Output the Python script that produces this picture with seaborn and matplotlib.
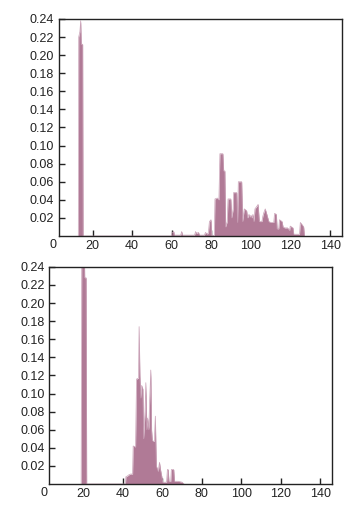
import matplotlib
matplotlib.use("Agg")
import matplotlib.pyplot as plt
import seaborn as sns
import pandas as pd

# top panel: (x, density) outline points
top_x = [12.8, 13.0, 13.6, 14.0, 14.3, 15.0, 15.2,
         59.8, 60.2, 61.0, 61.3, 64.5, 65.0, 65.5, 71.5, 72.0, 72.5, 73.5, 74.0,
         76.5, 77.0, 78.0, 78.5, 79.0, 79.8, 80.2, 81.5, 81.8, 83.0, 83.8, 84.3,
         85.8, 86.2, 86.8, 87.2, 88.0, 88.4, 89.8, 90.3, 91.0, 91.2, 92.8, 93.2,
         93.6, 95.3, 95.8, 96.6, 97.8, 98.3, 99.0, 99.5, 100.0, 100.5, 101.0,
         101.5, 102.0, 103.0, 103.6, 104.2, 105.5, 106.0, 106.5, 107.2, 108.0,
         108.5, 109.0, 110.0, 111.5, 111.9, 112.8, 113.2, 114.0, 114.4, 115.7,
         116.2, 117.0, 118.5, 119.5, 119.8, 121.2, 121.6, 124.5, 124.9, 126.0,
         126.6, 127.0]
top_y = [0.0, 0.220, 0.226, 0.238, 0.212, 0.212, 0.0,
         0.0, 0.004, 0.005, 0.001, 0.001, 0.005, 0.001, 0.001, 0.005, 0.003, 0.004, 0.001,
         0.001, 0.004, 0.002, 0.004, 0.016, 0.018, 0.0, 0.001, 0.041, 0.042, 0.040, 0.091,
         0.091, 0.072, 0.072, 0.010, 0.016, 0.041, 0.041, 0.020, 0.030, 0.048, 0.048, 0.015,
         0.060, 0.060, 0.016, 0.030, 0.028, 0.020, 0.024, 0.021, 0.023, 0.020, 0.024,
         0.016, 0.030, 0.033, 0.035, 0.016, 0.016, 0.022, 0.026, 0.030, 0.024,
         0.020, 0.016, 0.015, 0.015, 0.025, 0.024, 0.008, 0.008, 0.018, 0.016,
         0.010, 0.009, 0.009, 0.006, 0.011, 0.009, 0.002, 0.002, 0.015, 0.012,
         0.010, 0.0]

# bottom panel
bot_x = [19.0, 19.3, 20.6, 20.8, 21.5, 21.8,
         41.4, 41.6, 42.5, 43.0, 44.0, 45.0, 45.3, 46.5, 47.0, 48.0, 48.3, 48.7,
         49.2, 49.6, 50.2, 50.6, 51.3, 51.7, 52.2, 52.6, 53.2, 53.6, 54.2, 54.6,
         55.0, 56.0, 56.5, 57.0, 58.0, 58.6, 59.2, 59.8, 60.2, 62.2, 62.6, 63.0,
         63.4, 64.3, 64.6, 65.8, 66.2, 68.0, 70.0, 71.0]
bot_y = [0.0, 0.26, 0.26, 0.228, 0.228, 0.0,
         0.0, 0.008, 0.009, 0.010, 0.011, 0.011, 0.042, 0.041, 0.116, 0.117, 0.174, 0.120,
         0.095, 0.109, 0.105, 0.050, 0.080, 0.112, 0.060, 0.073, 0.060, 0.090, 0.126, 0.060,
         0.048, 0.047, 0.075, 0.020, 0.014, 0.024, 0.015, 0.008, 0.002, 0.002, 0.016, 0.016,
         0.003, 0.003, 0.016, 0.016, 0.003, 0.003, 0.002, 0.0]

x_ticks = [20, 40, 60, 80, 100, 120, 140]
y_ticks = [0.02, 0.04, 0.06, 0.08, 0.10, 0.12, 0.14, 0.16, 0.18, 0.20, 0.22, 0.24]

COLOR = "#b07a96"

sns.set_style("ticks")
plt.rcParams["font.family"] = ["Liberation Sans", "DejaVu Sans"]

fig = plt.figure(figsize=(3.61, 5.12), dpi=100)
ax_top = fig.add_axes([0.1626, 0.539, 0.785, 0.424])
ax_bot = fig.add_axes([0.1366, 0.0547, 0.784, 0.424])

for ax, xs, ys in [(ax_top, top_x, top_y), (ax_bot, bot_x, bot_y)]:
    df = pd.DataFrame({"x": xs, "y": ys})
    ax.fill_between(df["x"], df["y"], color=COLOR, linewidth=0)
    sns.lineplot(data=df, x="x", y="y", ax=ax, sort=False, estimator=None,
                 color="#c9a0b6", linewidth=0.5)
    ax.set_xlim(2.9, 146)
    ax.set_ylim(0, 0.24)
    ax.set_xticks(x_ticks)
    ax.set_yticks(y_ticks)
    ax.set_yticklabels([f"{v:.2f}" for v in y_ticks])
    ax.set_xlabel("")
    ax.set_ylabel("")
    ax.tick_params(direction="in", length=4, width=1, colors="#222222",
                   labelsize=9, pad=3.5)
    ax.tick_params(axis="x", pad=3)
    for s in ax.spines.values():
        s.set_linewidth(1)
        s.set_color("#222222")
    ax.text(0, -0.012, "0", ha="center", va="top", fontsize=9,
            color="#222222", transform=ax.get_xaxis_transform(), clip_on=False)

fig.savefig("out.png", dpi=100)
